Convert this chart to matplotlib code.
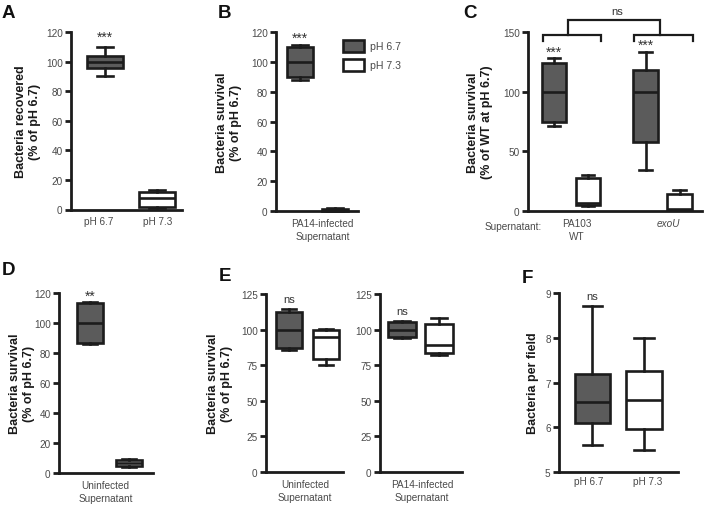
import matplotlib
matplotlib.use("Agg")
import matplotlib.pyplot as plt
from matplotlib.patches import Patch
from matplotlib.transforms import blended_transform_factory

plt.rcParams['font.family'] = ['Liberation Sans', 'DejaVu Sans']

# ---------------- data (whislo, q1, median, q3, whishi) ----------------
A_labels = ["pH 6.7", "pH 7.3"]
A_ph67 = [90, 96, 100, 104, 110]
A_ph73 = [1, 1.5, 8, 12, 13.5]

B_ph67 = [88, 90, 100, 110, 111]
B_ph73 = [0, 0.3, 0.8, 1.5, 1.8]

C_groups = ["PA103\nWT", "exoU"]
C_PA103_ph67 = [71.5, 75, 100, 124, 128]
C_PA103_ph73 = [4, 5, 6.5, 28, 30.5]
C_exoU_ph67 = [34.5, 57.5, 100, 118, 133.5]
C_exoU_ph73 = [0.5, 1, 2, 14, 17.5]

D_ph67 = [86, 86.5, 100, 113.5, 114]
D_ph73 = [4, 4.5, 6.5, 9, 9.5]

E_uninf_ph67 = [86, 87, 100, 112.5, 114.5]
E_uninf_ph73 = [75, 79.5, 94.5, 100, 100.5]
E_pa14_ph67 = [94, 95, 100, 105, 106]
E_pa14_ph73 = [82, 83.5, 89, 104, 108]

F_labels = ["pH 6.7", "pH 7.3"]
F_ph67 = [5.6, 6.1, 6.56, 7.2, 8.7]
F_ph73 = [5.49, 5.95, 6.6, 7.25, 8.0]

# ---------------- style ----------------
W, H = 704, 506
DARK = '#5b5b5b'
LIGHT = '#ffffff'
EC = '#1c1c1c'
TICKC = '#4a4a4a'
LW = 1.9
TFS = 7.2   # tick font size
LFS = 9.0   # ylabel font size
XLS = 1.35  # line spacing of two-line x labels

fig = plt.figure(figsize=(W / 100, H / 100), dpi=100)
fig.patch.set_facecolor('white')


def make_ax(x0, x1, ytop, ybot):
    ax = fig.add_axes([x0 / W, 1 - ybot / H, (x1 - x0) / W, (ybot - ytop) / H])
    ax.set_facecolor('none')
    for s in ['top', 'right']:
        ax.spines[s].set_visible(False)
    for s in ['left', 'bottom']:
        ax.spines[s].set_linewidth(2.0)
        ax.spines[s].set_color(EC)
    ax.tick_params(axis='y', direction='out', length=4, width=2.0, color=EC,
                   labelsize=TFS, labelcolor=TICKC, pad=2)
    ax.tick_params(axis='x', length=0, labelsize=TFS, labelcolor=TICKC, pad=5)
    return ax


def boxes(ax, positions, data, colors, width, capfrac=0.5):
    stats = [dict(whislo=d[0], q1=d[1], med=d[2], q3=d[3], whishi=d[4]) for d in data]
    bp = ax.bxp(stats, positions=positions, widths=width,
                capwidths=[width * capfrac] * len(data),
                patch_artist=True, showfliers=False,
                boxprops=dict(linewidth=LW, edgecolor=EC),
                medianprops=dict(color=EC, linewidth=LW),
                whiskerprops=dict(color=EC, linewidth=LW),
                capprops=dict(color=EC, linewidth=LW))
    for p, c in zip(bp['boxes'], colors):
        p.set_facecolor(c)
    for art in bp['boxes'] + bp['medians'] + bp['whiskers'] + bp['caps']:
        art.set_clip_on(False)
    return bp


def ylab(ax, text, x):
    ax.set_ylabel(text, fontsize=LFS, fontweight='bold', color='#1a1a1a',
                  linespacing=1.2, va='center')
    ax.yaxis.set_label_coords(x, 0.5,
                              transform=blended_transform_factory(fig.transFigure, ax.transAxes))


def letter(txt, x, y):
    fig.text(x / W, 1 - y / H, txt, fontsize=13.5, fontweight='bold',
             ha='left', va='top', color='#111111')


def sig(ax, x, y, txt, fs=10):
    ax.text(x, y, txt, ha='center', va='center', fontsize=fs, color='#333333')


# ---------------- Panel A ----------------
axA = make_ax(71, 182, 33, 210.5)
boxes(axA, [1, 2], [A_ph67, A_ph73], [DARK, LIGHT], 0.69, 0.45)
axA.set_xlim(0.346, 2.48)
axA.set_ylim(0, 120)
axA.set_yticks(range(0, 121, 20))
axA.set_xticks([0.87, 2.02])
axA.set_xticklabels(A_labels)
ylab(axA, "Bacteria recovered\n(% of pH 6.7)", 28 / W)
sig(axA, 1, 116.5, "***")
letter("A", 2, 5)

# ---------------- Panel B ----------------
axB = make_ax(276, 358, 33, 212)
boxes(axB, [1, 2], [B_ph67, B_ph73], [DARK, LIGHT], 0.74, 0.6)
axB.set_xlim(0.314, 2.657)
axB.set_ylim(0, 120)
axB.set_yticks(range(0, 121, 20))
axB.set_xticks([1.64])
axB.set_xticklabels(["PA14-infected\nSupernatant"], linespacing=XLS)
ylab(axB, "Bacteria survival\n(% of pH 6.7)", 229 / W)
sig(axB, 1, 116, "***")
letter("B", 218, 5)
handles = [Patch(facecolor=DARK, edgecolor=EC, linewidth=LW, label="pH 6.7"),
           Patch(facecolor=LIGHT, edgecolor=EC, linewidth=LW, label="pH 7.3")]
fig.legend(handles=handles, loc='upper left', bbox_to_anchor=(343 / W, 1 - 41 / H),
           frameon=False, fontsize=7.6, handlelength=2.0, handleheight=1.35,
           handletextpad=0.55, labelspacing=0.65, borderpad=0, borderaxespad=0,
           labelcolor=TICKC)

# ---------------- Panel C ----------------
axC = make_ax(528, 702, 33, 212)
gpos = [0, 1]
off = 0.186
boxes(axC, [g - off for g in gpos], [C_PA103_ph67, C_exoU_ph67], [DARK, DARK], 0.27, 0.5)
boxes(axC, [g + off for g in gpos], [C_PA103_ph73, C_exoU_ph73], [LIGHT, LIGHT], 0.27, 0.5)
axC.set_xlim(-0.47, 1.43)
axC.set_ylim(0, 150)
axC.set_yticks([0, 50, 100, 150])
axC.set_xticks([g + 0.06 for g in gpos])
axC.set_xticklabels(C_groups, linespacing=XLS)
axC.get_xticklabels()[1].set_style('italic')
ylab(axC, "Bacteria survival\n(% of WT at pH 6.7)", 480 / W)
sig(axC, -off, 133.5, "***")
sig(axC, 1 - off, 139.5, "***")
# brackets
for g in gpos:
    axC.plot([g - 0.31, g - 0.31, g + 0.33, g + 0.33], [142.5, 147.5, 147.5, 142.5],
             color=EC, lw=1.6, clip_on=False, solid_joinstyle='miter')
axC.plot([gpos[0] - 0.03, gpos[0] - 0.03, gpos[1] - 0.03, gpos[1] - 0.03],
         [147.5, 160, 160, 147.5], color=EC, lw=1.6, clip_on=False,
         solid_joinstyle='miter')
axC.text(0.5, 168, "ns", ha='center', va='center', fontsize=8, color='#333333')
fig.text(513 / W, 1 - 227 / H, "Supernatant:", ha='center', va='center',
         fontsize=TFS, color=TICKC)
letter("C", 463, 5)

# ---------------- Panel D ----------------
axD = make_ax(59, 153, 294, 474)
boxes(axD, [1, 2], [D_ph67, D_ph73], [DARK, LIGHT], 0.67, 0.5)
axD.set_xlim(0.205, 2.615)
axD.set_ylim(0, 120)
axD.set_yticks(range(0, 121, 20))
axD.set_xticks([1.4])
axD.set_xticklabels(["Uninfected\nSupernatant"], linespacing=XLS)
ylab(axD, "Bacteria survival\n(% of pH 6.7)", 22 / W)
sig(axD, 1, 118, "**")
letter("D", 2, 262)

# ---------------- Panel E ----------------
axE1 = make_ax(266, 343, 295, 473)
boxes(axE1, [1, 2], [E_uninf_ph67, E_uninf_ph73], [DARK, LIGHT], 0.7, 0.55)
axE1.set_xlim(0.378, 2.459)
axE1.set_ylim(0, 125)
axE1.set_yticks(range(0, 126, 25))
axE1.set_xticks([1.43])
axE1.set_xticklabels(["Uninfected\nSupernatant"], linespacing=XLS)
ylab(axE1, "Bacteria survival\n(% of pH 6.7)", 220 / W)
sig(axE1, 1, 121.5, "ns", fs=8)

axE2 = make_ax(380, 462, 295, 473)
boxes(axE2, [1, 2], [E_pa14_ph67, E_pa14_ph73], [DARK, LIGHT], 0.75, 0.55)
axE2.set_xlim(0.405, 2.62)
axE2.set_ylim(0, 125)
axE2.set_yticks(range(0, 126, 25))
axE2.set_xticks([1.54])
axE2.set_xticklabels(["PA14-infected\nSupernatant"], linespacing=XLS)
sig(axE2, 1, 113, "ns", fs=8)
letter("E", 219, 268)

# ---------------- Panel F ----------------
axF = make_ax(559, 678, 294, 473)
boxes(axF, [1, 2], [F_ph67, F_ph73], [DARK, LIGHT], 0.68, 0.57)
axF.set_xlim(0.35, 2.66)
axF.set_ylim(5, 9)
axF.set_yticks([5, 6, 7, 8, 9])
axF.set_xticks([0.93, 2.08])
axF.set_xticklabels(F_labels)
axF.tick_params(axis='x', pad=3)
ylab(axF, "Bacteria per field", 533 / W)
sig(axF, 1, 8.93, "ns", fs=8)
letter("F", 522, 270)

fig.savefig("out.png", dpi=100, facecolor='white')
